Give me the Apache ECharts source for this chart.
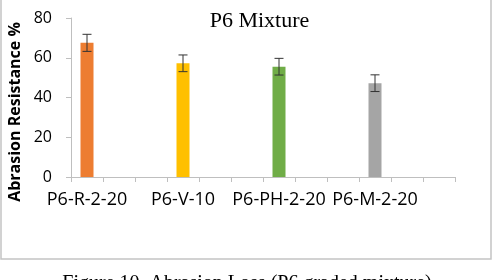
<!DOCTYPE html>
<html>
<head>
<meta charset="utf-8">
<script src="https://cdn.jsdelivr.net/npm/echarts@6/dist/echarts.min.js"></script>
<style>html,body{margin:0;padding:0;background:#fff}#c{width:500px;height:280px}</style>
</head>
<body>
<div id="c"></div>
<script>
var labels = ['P6-R-2-20', 'P6-V-10', 'P6-PH-2-20', 'P6-M-2-20'];
var values = [67.5, 57.2, 55.5, 47.2];
var errors = [4.3, 4.2, 4.2, 4.2];
var colors = ['#ED7D31', '#FFC000', '#70AD47', '#A5A5A5'];
var slotsPerLabel = 3;
var yTicks = [0, 20, 40, 60, 80];
var titleText = 'P6 Mixture';
var yName = 'Abrasion Resistance %';
var captionText = 'Figure 10. Abrasion Loss (P6 graded mixture)';

var cats = [], barData = [], errData = [];
labels.forEach(function (l, i) {
  for (var k = 0; k < slotsPerLabel; k++) {
    var idx = i * slotsPerLabel + k;
    cats.push(k === 0 ? l : '\u200b'.repeat(idx + 1));
    if (k === 0) {
      barData.push({ value: values[i], itemStyle: { color: colors[i] } });
      errData.push([idx, values[i] - errors[i], values[i] + errors[i]]);
    } else {
      barData.push(null);
    }
  }
});

var chart = echarts.init(document.getElementById('c'), null, { renderer: 'canvas' });
chart.setOption({
  animation: false,
  backgroundColor: '#fff',
  grid: { left: 71, right: 45, top: 18, bottom: 103 },
  xAxis: {
    type: 'category',
    data: cats,
    axisLine: { lineStyle: { color: '#bfbfbf', width: 1 } },
    axisTick: { show: true, interval: 0, length: 5, lineStyle: { color: '#bfbfbf' } },
    axisLabel: { interval: 0, margin: 14, fontFamily: 'Open Sans', fontSize: 18, color: '#000' },
    splitLine: { show: false }
  },
  yAxis: {
    type: 'value',
    min: yTicks[0],
    max: yTicks[yTicks.length - 1],
    interval: yTicks[1] - yTicks[0],
    axisLine: { show: true, lineStyle: { color: '#bfbfbf', width: 1 } },
    axisTick: { show: true, length: 5, lineStyle: { color: '#bfbfbf' } },
    axisLabel: { margin: 19, fontFamily: 'Open Sans', fontSize: 16, color: '#000' },
    splitLine: { show: false }
  },
  series: [
    {
      type: 'bar',
      data: barData,
      barWidth: 13
    },
    {
      type: 'custom',
      data: errData,
      z: 5,
      renderItem: function (params, api) {
        var x = api.value(0);
        var lo = api.coord([x, api.value(1)]);
        var hi = api.coord([x, api.value(2)]);
        var hw = 4.5;
        var st = { stroke: '#333', lineWidth: 1 };
        return {
          type: 'group',
          children: [
            { type: 'line', shape: { x1: lo[0], y1: lo[1], x2: hi[0], y2: hi[1] }, style: st },
            { type: 'line', shape: { x1: lo[0] - hw, y1: lo[1], x2: lo[0] + hw, y2: lo[1] }, style: st },
            { type: 'line', shape: { x1: hi[0] - hw, y1: hi[1], x2: hi[0] + hw, y2: hi[1] }, style: st }
          ]
        };
      }
    }
  ],
  graphic: [
    {
      type: 'rect',
      shape: { x: 1, y: -10, width: 490, height: 269 },
      style: { fill: 'none', stroke: '#c4c4c4', lineWidth: 1.5 },
      silent: true
    },
    {
      type: 'text',
      x: 259.5, y: 32,
      style: { text: titleText, font: '22px "Liberation Serif"', fill: '#000', textAlign: 'center', textVerticalAlign: 'bottom' }
    },
    {
      type: 'text',
      x: 15, y: 112,
      rotation: Math.PI / 2,
      style: { text: yName, font: 'bold 16px "Open Sans"', fill: '#000', textAlign: 'center', textVerticalAlign: 'middle' }
    },
    {
      type: 'text',
      x: 247, y: 294,
      style: { text: captionText, font: '20px "Liberation Serif"', fill: '#000', textAlign: 'center', textVerticalAlign: 'bottom' }
    }
  ]
});
</script>
</body>
</html>
